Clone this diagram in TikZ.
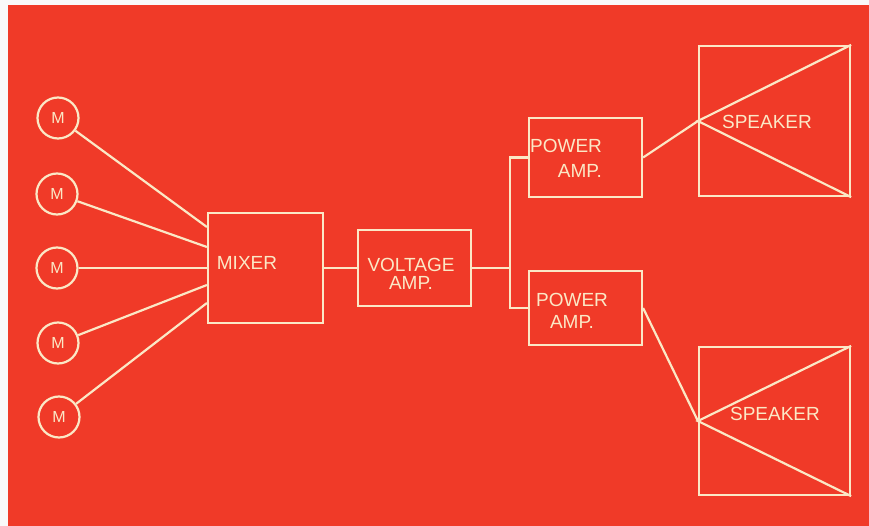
\documentclass[tikz,border=0pt]{standalone}
\usepackage{fontspec}
\setmainfont{Liberation Sans}
\definecolor{poster}{RGB}{240,58,40}
\definecolor{chalk}{RGB}{251,232,198}
\begin{document}
\begin{tikzpicture}[x=1pt,y=-1pt,line width=2.2pt,
  box/.style={draw=chalk,rectangle,inner sep=0pt},
  mic/.style={draw=chalk,circle,minimum size=41pt,inner sep=0pt,text=chalk,font=\fontsize{16}{16}\selectfont},
  lbl/.style={text=chalk,font=\fontsize{19}{21}\selectfont,inner sep=0pt},
  wire/.style={draw=chalk}]
\useasboundingbox (0,0) rectangle (869,526);
\fill[white!95!gray] (0,0) rectangle (869,526);\fill[poster] (8,5) rectangle (869,526);
% mixer and microphones
\node[box,minimum width=115pt,minimum height=110pt] (mixer) at (265.5,268) {};
\node[lbl] (mixer-t) at (247,263) {MIXER};
\foreach \x/\y/\dy [count=\i] in {58/118/41,57/194/21,57/268/0,58/343/-17,59/417/-35}{
  \node[mic] (m\i) at (\x,\y) {M};
  \draw[wire] (m\i) -- ([yshift=\dy pt]mixer.west);}
% amplifiers
\node[box,minimum width=113pt,minimum height=76pt] (volt) at (414.5,268) {};
\node[lbl,align=center] (volt-t) at (411,274) {VOLTAGE\\[-3pt]AMP.};
\node[box,minimum width=113pt,minimum height=79pt] (pa1) at (585.5,157.5) {};
\node[lbl,align=right] (pa1-t) at (566,158) {POWER\\[4pt]AMP.};
\node[box,minimum width=113pt,minimum height=74pt] (pa2) at (585.5,308) {};
\node[lbl,align=center] (pa2-t) at (572,311) {POWER\\[1pt]AMP.};
\coordinate (split) at (510,268);
\draw[wire] (mixer.east) -- (volt.west) (volt.east) -- (split) (pa1.west) -| (split) |- (pa2.west);
% speakers
\node[box,minimum width=151pt,minimum height=150pt] (spk1) at (774.5,121) {};
\node[box,minimum width=151pt,minimum height=148pt] (spk2) at (774.5,421) {};
\draw[wire] (spk1.north east) -- (spk1.west) -- (spk1.south east);
\draw[wire] (spk2.north east) -- (spk2.west) -- (spk2.south east);
\node[lbl] (spk1-t) at (767,122) {SPEAKER};\node[lbl] (spk2-t) at (775,414) {SPEAKER};
\draw[wire] (pa1.east) -- (spk1.west);\draw[wire] (pa2.east) -- (spk2.west);
\end{tikzpicture}
\end{document}
